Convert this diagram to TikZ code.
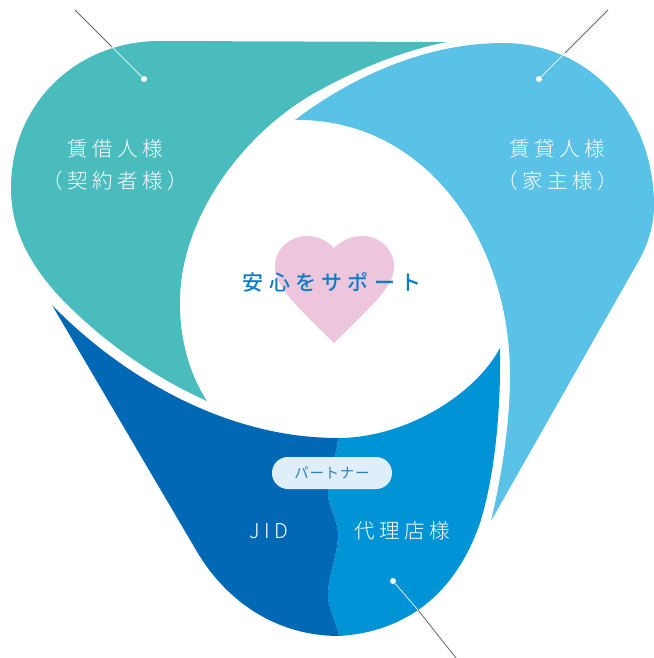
\documentclass[tikz,border=0pt]{standalone}
\usepackage{fontspec}
\newfontfamily\cjkA[LetterSpace=22,UprightFont=* Light]{Noto Sans CJK JP}
\newfontfamily\cjkB[LetterSpace=5]{Noto Sans CJK JP}
\newfontfamily\cjkC[LetterSpace=25,UprightFont=* Medium]{Noto Sans CJK JP}
\definecolor{tealc}{HTML}{4BBCBD}
\definecolor{skyc}{HTML}{5AC2E7}
\definecolor{darkc}{HTML}{0068B5}
\definecolor{midc}{HTML}{0094D6}
\definecolor{heartc}{HTML}{EDC5DC}
\definecolor{centerc}{HTML}{0E7CC5}
\definecolor{pillc}{HTML}{DEEFFA}
\definecolor{pilltxt}{HTML}{2E7DB8}
\definecolor{leadc}{HTML}{666666}
\definecolor{leadin}{HTML}{E2ECEC}
\tikzset{
 lab/.style={text=white,font=\cjkA\fontsize{20.5}{32}\selectfont,align=center,inner sep=0pt},
 dotn/.style={circle,fill=white,minimum size=6pt,inner sep=0pt},
 outerlead/.style={draw=leadc,line width=0.8pt},
 innerlead/.style={draw=leadin,line width=0.8pt}
}
\begin{document}
\begin{tikzpicture}[x=1pt,y=-1pt]
\useasboundingbox (0,0) rectangle (653,658);
% teal
\fill[tealc] (447,42) -- (160,41)
 .. controls (75,41) and (11,105) .. (11,188)
 .. controls (11,225) and (25,258) .. (57,294)
 .. controls (100,340) and (155,378) .. (207,401)
 .. controls (188,372) and (179,335) .. (180,298)
 .. controls (182,215) and (245,130) .. (320,90)
 .. controls (360,68) and (405,50) .. (447,42) -- cycle;
% sky
\fill[skyc] (295,120)
 .. controls (350,78) and (425,43) .. (503,43)
 .. controls (590,43) and (654,115) .. (654,205)
 .. controls (654,225) and (648,245) .. (638,262)
 -- (491,521)
 .. controls (503,470) and (510,420) .. (510,375)
 .. controls (510,240) and (425,118) .. (295,120) -- cycle;
% mid
\fill[midc] (338,438)
 .. controls (405,438) and (475,395) .. (500,348)
 .. controls (501,410) and (495,475) .. (480,523)
 .. controls (455,595) and (405,632) .. (339,636)
 .. controls (337,625) and (330,612) .. (328,598)
 .. controls (327,578) and (338,555) .. (338,535)
 .. controls (338,518) and (326,505) .. (328,488)
 .. controls (329,470) and (337,455) .. (338,438) -- cycle;
% dark
\fill[darkc] (52,305)
 .. controls (110,365) and (215,438) .. (338,438)
 .. controls (337,455) and (329,470) .. (328,488)
 .. controls (326,505) and (338,518) .. (338,535)
 .. controls (338,555) and (327,578) .. (328,598)
 .. controls (330,612) and (337,625) .. (339,636)
 .. controls (275,636) and (225,600) .. (196,550)
 -- (52,305) -- cycle;
% heart
\fill[heartc] (334,248)
 .. controls (325,239) and (316,236) .. (307,236)
 .. controls (289,236) and (275,250) .. (275,266)
 .. controls (275,285) and (290,300) .. (334,343)
 .. controls (378,300) and (394,285) .. (394,266)
 .. controls (394,250) and (380,236) .. (362,236)
 .. controls (353,236) and (343,239) .. (334,248) -- cycle;
% labels
\node[lab] (a) at (115.5,165) {賃借人様\\（契約者様）};
\node[lab] (b) at (557.5,165) {賃貸人様\\（家主様）};
\node[lab] (c) at (269,531) {JID};
\node[lab] (d) at (402.5,531) {代理店様};
\node[inner sep=0pt,text=centerc,font=\cjkC\fontsize{21}{25}\selectfont] (e) at (332,282) {安心をサポート};
\node[fill=pillc,rounded corners=15.9pt,minimum width=120pt,minimum height=32pt,inner sep=0pt,text=pilltxt,font=\cjkB\fontsize{14.5}{16}\selectfont] (f) at (332,473) {パートナー};
% leaders
\node[dotn] (p1) at (144,79) {};
\node[dotn] (p2) at (539,79) {};
\node[dotn] (p3) at (393,581) {};
\coordinate (e1) at (75,10); \coordinate (x1) at (112,47);
\coordinate (e2) at (608,10); \coordinate (x2) at (565,53);
\coordinate (e3) at (456,658); \coordinate (x3) at (418,610);
\draw[outerlead] (e1) -- (x1);
\draw[innerlead] (x1) -- (p1);
\draw[outerlead] (e2) -- (x2);
\draw[innerlead] (x2) -- (p2);
\draw[outerlead] (e3) -- (x3);
\draw[innerlead] (x3) -- (p3);
\end{tikzpicture}
\end{document}
